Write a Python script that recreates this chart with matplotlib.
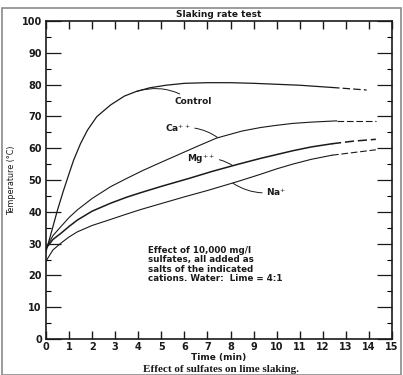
import matplotlib
matplotlib.use("Agg")
import matplotlib.pyplot as plt
from matplotlib.patches import Rectangle
from matplotlib.ticker import MultipleLocator

# curve data (time in min, temperature in deg C)
control_t = [0, 0.25, 0.5, 0.75, 1.0, 1.2, 1.5, 1.8, 2.2, 2.8, 3.4, 3.9, 4.5, 5.2,
             6.0, 7.0, 8.0, 9.0, 10.0, 11.0, 12.4]
control_T = [27.5, 34, 40.6, 46.5, 52, 56.3, 61.5, 65.7, 69.9, 73.6, 76.4, 77.8, 79.0, 79.8,
             80.4, 80.6, 80.6, 80.4, 80.1, 79.8, 79.1]
control_dash_t = [12.4, 13.9]
control_dash_T = [79.1, 78.3]

ca_t = [0, 0.3, 0.64, 1.0, 1.36, 2.0, 2.8, 3.5, 4.2, 5.0, 5.5, 6.5, 7.4, 8.5, 9.3,
        10.0, 10.7, 11.5, 12.6]
ca_T = [28.5, 32.5, 35.3, 38.2, 40.6, 44.2, 47.9, 50.5, 53.0, 55.6, 57.2, 60.4, 63.2, 65.4, 66.5,
        67.2, 67.8, 68.2, 68.6]
ca_dash_t = [12.6, 14.3]
ca_dash_T = [68.6, 68.6]

mg_t = [0, 0.3, 0.64, 1.0, 1.36, 2.0, 2.8, 3.5, 4.1, 5.0, 6.2, 7.2, 8.3, 9.3,
        10.0, 10.7, 11.5, 12.4]
mg_T = [28.5, 31.3, 33.2, 35.4, 37.4, 40.2, 42.7, 44.6, 46.0, 48.0, 50.5, 52.7, 54.9, 56.8,
        58.0, 59.2, 60.4, 61.4]
mg_dash_t = [12.4, 13.3, 14.3]
mg_dash_T = [61.4, 62.2, 62.8]

na_t = [0, 0.3, 0.64, 1.0, 1.36, 2.0, 2.8, 3.5, 4.1, 5.0, 6.0, 7.0, 8.3, 9.3,
        10.0, 10.7, 11.5, 12.4]
na_T = [24.5, 28.0, 30.1, 32.1, 33.7, 35.7, 37.6, 39.3, 40.7, 42.6, 44.7, 46.7, 49.5, 51.8,
        53.5, 55.0, 56.5, 57.8]
na_dash_t = [12.4, 14.3]
na_dash_T = [57.8, 59.5]

x_ticks = list(range(0, 16))
y_ticks = list(range(0, 101, 10))

note = "Effect of 10,000 mg/l\nsulfates, all added as\nsalts of the indicated\ncations. Water:  Lime = 4:1"

fig = plt.figure(figsize=(4.03, 3.75), dpi=100)
ax = fig.add_axes([46 / 403, 1 - 339 / 375, (392 - 46) / 403, (339 - 21) / 375])

ink = "#1a1a1a"
dash = (0, (6, 2.5))

ax.plot(control_t, control_T, color=ink, lw=0.9)
ax.plot(control_dash_t, control_dash_T, color=ink, lw=0.9, linestyle=dash)
ax.plot(ca_t, ca_T, color=ink, lw=0.8)
ax.plot(ca_dash_t, ca_dash_T, color=ink, lw=0.8, linestyle=dash)
ax.plot(mg_t, mg_T, color=ink, lw=1.1)
ax.plot(mg_dash_t, mg_dash_T, color=ink, lw=1.1, linestyle=dash)
ax.plot(na_t, na_T, color=ink, lw=0.8)
ax.plot(na_dash_t, na_dash_T, color=ink, lw=0.8, linestyle=dash)

lbl = dict(fontsize=6.5, fontweight="bold", color=ink, va="center", ha="left")
arrow = dict(arrowstyle="-", color=ink, lw=0.7, shrinkA=1, shrinkB=0)
ax.annotate("Control", xy=(3.93, 77.9), xytext=(5.55, 74.6), **lbl,
            arrowprops=dict(arrow, connectionstyle="arc3,rad=0.25"))
ax.annotate(r"Ca$^{++}$", xy=(7.45, 63.3), xytext=(5.15, 66.3), **lbl,
            arrowprops=dict(arrow, connectionstyle="arc3,rad=-0.2"))
ax.annotate(r"Mg$^{++}$", xy=(8.1, 54.5), xytext=(6.1, 56.5), **lbl,
            arrowprops=dict(arrow, connectionstyle="arc3,rad=-0.2"))
ax.annotate(r"Na$^{+}$", xy=(8.1, 49.0), xytext=(9.55, 46.3), **lbl,
            arrowprops=dict(arrow, connectionstyle="arc3,rad=-0.2"))

ax.text(4.42, 29.2, note, fontsize=6.3, fontweight="bold", color=ink,
        ha="left", va="top", linespacing=1.05)

ax.set_xlim(0, 15)
ax.set_ylim(0, 100)
ax.set_xticks(x_ticks)
ax.set_yticks(y_ticks)
ax.yaxis.set_minor_locator(MultipleLocator(5))
ax.tick_params(axis="x", direction="in", length=6, width=1.0, top=True,
               labelsize=7, pad=2, colors=ink)
ax.tick_params(axis="y", which="major", direction="in", length=11, width=0.9,
               right=True, labelsize=7, pad=3, colors=ink)
ax.tick_params(axis="y", which="minor", direction="in", length=3.5, width=0.8,
               right=True)
for lab in ax.get_xticklabels() + ax.get_yticklabels():
    lab.set_fontweight("bold")
for s in ax.spines.values():
    s.set_linewidth(1.2)
    s.set_color(ink)

ax.set_xlabel("Time (min)", fontsize=6.5, fontweight="bold", labelpad=1, color=ink)
ax.set_ylabel("Temperature (°C)", fontsize=5.8, labelpad=4, color=ink)
ax.set_title("Slaking rate test", fontsize=6.5, fontweight="bold", pad=3, color=ink)

fig.text(221 / 403, 1 - 369 / 375, "Effect of sulfates on lime slaking.",
         family="Liberation Serif", fontweight="bold", fontsize=8,
         ha="center", va="center", color=ink)

fig.patches.append(Rectangle((2 / 403, 0), 399 / 403, 1 - 8 / 375,
                             transform=fig.transFigure, fill=False,
                             edgecolor="#8a8a8a", lw=1.2))

fig.savefig("out.png", dpi=100)
